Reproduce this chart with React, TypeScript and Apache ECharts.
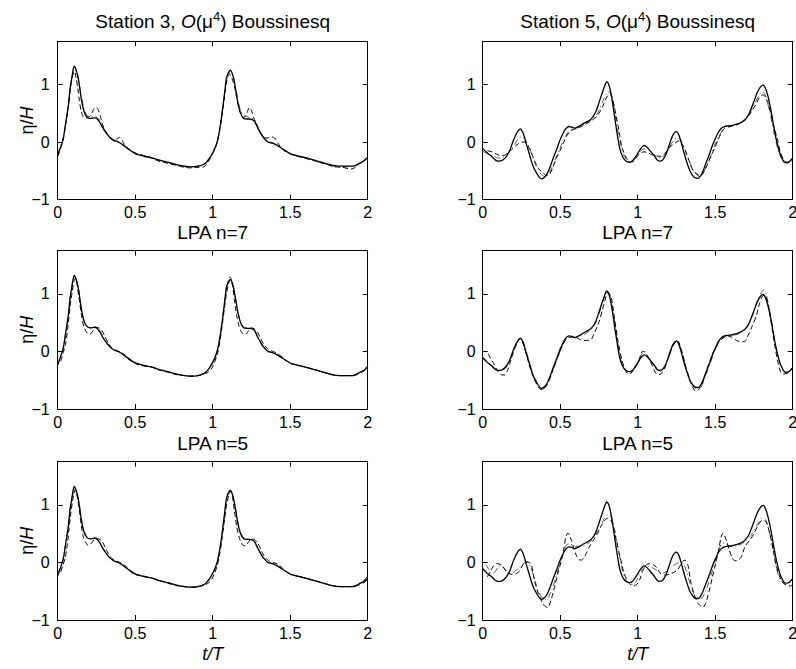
import React, { useEffect, useRef } from "react";
import * as echarts from "echarts";

// ---------- data (t/T, eta/H) ----------
const MEASURED_3 = [[0,-0.23],[0.02,-0.08],[0.036,0.06],[0.05,0.3],[0.069,0.64],[0.08,0.93],[0.09,1.10],[0.1,1.26],[0.107,1.32],[0.12,1.24],[0.133,1.10],[0.145,0.88],[0.155,0.70],[0.17,0.53],[0.187,0.44],[0.21,0.41],[0.24,0.42],[0.255,0.40],[0.27,0.35],[0.29,0.25],[0.315,0.15],[0.34,0.07],[0.36,0.03],[0.39,0.0],[0.42,-0.05],[0.45,-0.11],[0.5,-0.20],[0.55,-0.24],[0.605,-0.27],[0.65,-0.31],[0.71,-0.35],[0.76,-0.39],[0.82,-0.42],[0.86,-0.43],[0.905,-0.42],[0.94,-0.39],[0.96,-0.35],[0.98,-0.28],[1.0,-0.19],[1.02,-0.07],[1.034,0.06],[1.05,0.30],[1.067,0.64],[1.078,0.88],[1.088,1.10],[1.1,1.2],[1.114,1.25],[1.125,1.2],[1.135,1.10],[1.15,0.88],[1.163,0.67],[1.18,0.5],[1.2,0.41],[1.22,0.40],[1.238,0.40],[1.255,0.39],[1.27,0.36],[1.29,0.25],[1.31,0.15],[1.33,0.07],[1.356,0.0],[1.385,-0.02],[1.41,-0.05],[1.44,-0.1],[1.463,-0.14],[1.506,-0.21],[1.55,-0.24],[1.61,-0.28],[1.65,-0.31],[1.7,-0.35],[1.75,-0.39],[1.785,-0.41],[1.84,-0.42],[1.89,-0.42],[1.92,-0.41],[1.946,-0.37],[1.975,-0.33],[2.0,-0.27]];

const MEASURED_5 = [[0,-0.11],[0.03,-0.19],[0.058,-0.25],[0.08,-0.31],[0.1,-0.33],[0.125,-0.32],[0.144,-0.28],[0.16,-0.22],[0.176,-0.14],[0.19,-0.03],[0.208,0.09],[0.225,0.18],[0.243,0.23],[0.26,0.16],[0.272,0.06],[0.283,-0.05],[0.3,-0.2],[0.315,-0.34],[0.33,-0.45],[0.348,-0.54],[0.365,-0.61],[0.38,-0.64],[0.395,-0.62],[0.412,-0.57],[0.435,-0.43],[0.455,-0.28],[0.478,-0.12],[0.498,0.03],[0.515,0.13],[0.53,0.21],[0.556,0.27],[0.575,0.26],[0.594,0.24],[0.61,0.26],[0.627,0.28],[0.65,0.32],[0.67,0.35],[0.69,0.38],[0.712,0.44],[0.73,0.53],[0.745,0.64],[0.762,0.78],[0.777,0.9],[0.79,1.0],[0.8,1.05],[0.812,1.01],[0.825,0.88],[0.84,0.64],[0.85,0.45],[0.862,0.24],[0.873,0.05],[0.884,-0.11],[0.9,-0.24],[0.916,-0.31],[0.93,-0.34],[0.948,-0.35],[0.965,-0.33],[0.98,-0.28],[1.0,-0.2],[1.013,-0.14],[1.03,-0.08],[1.045,-0.06],[1.06,-0.09],[1.077,-0.14],[1.095,-0.2],[1.11,-0.25],[1.125,-0.31],[1.14,-0.33],[1.157,-0.32],[1.174,-0.26],[1.19,-0.16],[1.206,-0.03],[1.227,0.12],[1.25,0.18],[1.263,0.14],[1.28,0.0],[1.3,-0.2],[1.318,-0.36],[1.335,-0.49],[1.352,-0.57],[1.37,-0.62],[1.39,-0.63],[1.405,-0.59],[1.42,-0.51],[1.44,-0.37],[1.464,-0.2],[1.485,-0.04],[1.506,0.09],[1.52,0.17],[1.54,0.24],[1.56,0.27],[1.58,0.28],[1.61,0.29],[1.635,0.31],[1.66,0.33],[1.69,0.38],[1.705,0.43],[1.72,0.5],[1.735,0.6],[1.753,0.73],[1.77,0.85],[1.785,0.93],[1.8,0.98],[1.81,0.99],[1.825,0.93],[1.84,0.8],[1.86,0.55],[1.876,0.3],[1.893,0.06],[1.91,-0.13],[1.925,-0.25],[1.946,-0.35],[1.965,-0.36],[1.98,-0.34],[2.0,-0.28]];

const BOUSS_3_DASHED = [[0,-0.25],[0.02,-0.1],[0.036,0.05],[0.05,0.28],[0.069,0.62],[0.08,0.9],[0.09,1.08],[0.1,1.2],[0.108,1.22],[0.12,1.1],[0.13,0.92],[0.14,0.72],[0.15,0.55],[0.165,0.44],[0.18,0.42],[0.2,0.43],[0.22,0.5],[0.235,0.58],[0.25,0.6],[0.26,0.57],[0.275,0.45],[0.29,0.3],[0.315,0.16],[0.34,0.07],[0.36,0.03],[0.38,0.05],[0.4,0.08],[0.415,0.03],[0.43,-0.04],[0.45,-0.1],[0.5,-0.19],[0.55,-0.23],[0.605,-0.28],[0.65,-0.33],[0.71,-0.37],[0.76,-0.4],[0.82,-0.44],[0.86,-0.45],[0.905,-0.44],[0.944,-0.43],[0.974,-0.33],[1.0,-0.2],[1.02,-0.08],[1.034,0.05],[1.05,0.28],[1.067,0.6],[1.088,1.02],[1.1,1.15],[1.11,1.18],[1.125,1.1],[1.14,0.97],[1.16,0.7],[1.18,0.5],[1.2,0.42],[1.215,0.47],[1.238,0.6],[1.25,0.55],[1.265,0.42],[1.28,0.33],[1.3,0.2],[1.33,0.08],[1.356,0.07],[1.38,0.09],[1.4,0.07],[1.42,-0.02],[1.44,-0.09],[1.463,-0.15],[1.506,-0.21],[1.55,-0.25],[1.61,-0.29],[1.65,-0.32],[1.7,-0.36],[1.75,-0.4],[1.785,-0.43],[1.84,-0.44],[1.89,-0.47],[1.92,-0.44],[1.946,-0.37],[1.975,-0.32],[2.0,-0.27]];

const BOUSS_3_DASHDOT = [[0,-0.2],[0.02,-0.06],[0.036,0.08],[0.05,0.3],[0.069,0.62],[0.08,0.9],[0.09,1.06],[0.1,1.2],[0.11,1.26],[0.12,1.22],[0.133,1.12],[0.145,0.93],[0.155,0.76],[0.17,0.58],[0.187,0.47],[0.21,0.44],[0.24,0.45],[0.255,0.43],[0.27,0.38],[0.29,0.27],[0.315,0.16],[0.34,0.08],[0.36,0.04],[0.39,0.01],[0.42,-0.04],[0.45,-0.1],[0.5,-0.19],[0.55,-0.25],[0.605,-0.28],[0.65,-0.31],[0.71,-0.36],[0.76,-0.4],[0.82,-0.43],[0.86,-0.44],[0.905,-0.42],[0.94,-0.38],[0.96,-0.34],[0.98,-0.27],[1.0,-0.18],[1.02,-0.06],[1.034,0.07],[1.05,0.3],[1.067,0.62],[1.088,1.06],[1.1,1.17],[1.114,1.24],[1.125,1.21],[1.135,1.12],[1.15,0.92],[1.163,0.72],[1.18,0.55],[1.2,0.46],[1.22,0.44],[1.238,0.43],[1.255,0.41],[1.27,0.37],[1.29,0.27],[1.31,0.16],[1.33,0.08],[1.356,0.01],[1.385,-0.01],[1.41,-0.05],[1.44,-0.1],[1.463,-0.15],[1.506,-0.21],[1.55,-0.25],[1.61,-0.29],[1.65,-0.32],[1.7,-0.36],[1.75,-0.4],[1.785,-0.42],[1.84,-0.43],[1.89,-0.43],[1.92,-0.41],[1.946,-0.38],[1.975,-0.32],[2.0,-0.26]];

const BOUSS_5_DASHED = [[0.03,-0.15],[0.06,-0.17],[0.09,-0.21],[0.116,-0.24],[0.14,-0.23],[0.165,-0.18],[0.187,-0.13],[0.21,-0.07],[0.23,-0.03],[0.25,0.0],[0.27,0.0],[0.29,-0.06],[0.31,-0.16],[0.335,-0.33],[0.36,-0.46],[0.39,-0.54],[0.41,-0.58],[0.43,-0.56],[0.45,-0.46],[0.476,-0.28],[0.5,-0.14],[0.52,-0.02],[0.545,0.12],[0.57,0.2],[0.6,0.23],[0.63,0.26],[0.67,0.32],[0.7,0.37],[0.734,0.44],[0.755,0.52],[0.773,0.61],[0.79,0.72],[0.805,0.8],[0.82,0.84],[0.835,0.78],[0.85,0.6],[0.862,0.44],[0.873,0.29],[0.884,0.12],[0.895,-0.05],[0.91,-0.18],[0.93,-0.29],[0.95,-0.35],[0.97,-0.34],[0.99,-0.28],[1.01,-0.21],[1.04,-0.17],[1.07,-0.19],[1.09,-0.22],[1.12,-0.24],[1.15,-0.25],[1.175,-0.2],[1.2,-0.11],[1.22,-0.06],[1.24,-0.02],[1.265,0.02],[1.285,-0.03],[1.31,-0.18],[1.335,-0.35],[1.356,-0.49],[1.39,-0.57],[1.41,-0.58],[1.43,-0.5],[1.453,-0.37],[1.475,-0.23],[1.496,-0.11],[1.52,0.05],[1.54,0.16],[1.56,0.24],[1.6,0.27],[1.64,0.3],[1.68,0.36],[1.72,0.47],[1.74,0.56],[1.76,0.64],[1.785,0.77],[1.805,0.82],[1.82,0.8],[1.84,0.68],[1.86,0.48],[1.88,0.25],[1.9,0.06],[1.92,-0.17],[1.94,-0.3],[1.96,-0.35],[1.98,-0.35],[2.0,-0.31]];

const BOUSS_5_DASHDOT = [[0,-0.16],[0.03,-0.2],[0.06,-0.24],[0.09,-0.27],[0.116,-0.28],[0.14,-0.25],[0.165,-0.19],[0.187,-0.11],[0.21,-0.02],[0.23,0.06],[0.25,0.09],[0.27,0.06],[0.29,-0.03],[0.31,-0.16],[0.335,-0.35],[0.36,-0.5],[0.385,-0.58],[0.405,-0.6],[0.425,-0.55],[0.45,-0.42],[0.476,-0.25],[0.5,-0.1],[0.52,0.02],[0.545,0.15],[0.57,0.22],[0.6,0.24],[0.63,0.27],[0.67,0.33],[0.7,0.38],[0.734,0.47],[0.755,0.58],[0.773,0.7],[0.79,0.8],[0.805,0.86],[0.82,0.87],[0.835,0.76],[0.85,0.55],[0.865,0.3],[0.88,0.08],[0.895,-0.1],[0.91,-0.22],[0.93,-0.31],[0.95,-0.34],[0.97,-0.33],[0.99,-0.26],[1.01,-0.18],[1.04,-0.12],[1.07,-0.14],[1.09,-0.19],[1.12,-0.25],[1.15,-0.28],[1.175,-0.22],[1.2,-0.12],[1.22,-0.02],[1.24,0.05],[1.265,0.07],[1.285,0.0],[1.31,-0.16],[1.335,-0.34],[1.356,-0.48],[1.385,-0.58],[1.405,-0.6],[1.425,-0.53],[1.453,-0.36],[1.475,-0.21],[1.496,-0.06],[1.52,0.08],[1.54,0.18],[1.56,0.25],[1.6,0.28],[1.64,0.31],[1.68,0.37],[1.72,0.5],[1.74,0.6],[1.76,0.7],[1.785,0.82],[1.805,0.87],[1.82,0.84],[1.84,0.66],[1.86,0.42],[1.88,0.15],[1.9,-0.08],[1.92,-0.24],[1.94,-0.32],[1.96,-0.35],[1.98,-0.33],[2.0,-0.27]];

const LPA7_3_DASHED = [[0.02,-0.17],[0.036,-0.02],[0.05,0.12],[0.065,0.4],[0.08,0.78],[0.095,1.06],[0.105,1.22],[0.113,1.27],[0.125,1.16],[0.14,0.88],[0.155,0.6],[0.17,0.42],[0.185,0.34],[0.2,0.3],[0.215,0.31],[0.23,0.37],[0.245,0.42],[0.265,0.41],[0.285,0.36],[0.305,0.26],[0.325,0.15],[0.35,0.06],[0.38,0.01],[0.41,-0.02],[0.43,-0.05],[0.45,-0.12],[0.47,-0.16],[0.5,-0.21],[0.55,-0.25],[0.605,-0.27],[0.65,-0.32],[0.71,-0.36],[0.76,-0.4],[0.82,-0.42],[0.86,-0.43],[0.905,-0.42],[0.94,-0.39],[0.965,-0.37],[0.99,-0.31],[1.01,-0.2],[1.03,-0.05],[1.045,0.15],[1.06,0.42],[1.075,0.74],[1.09,1.02],[1.105,1.2],[1.115,1.25],[1.128,1.14],[1.14,0.9],[1.155,0.62],[1.17,0.44],[1.185,0.34],[1.2,0.3],[1.215,0.3],[1.23,0.36],[1.25,0.41],[1.27,0.39],[1.29,0.33],[1.31,0.22],[1.33,0.12],[1.36,0.03],[1.39,0.0],[1.42,-0.04],[1.45,-0.1],[1.48,-0.17],[1.506,-0.21],[1.55,-0.24],[1.61,-0.28],[1.65,-0.31],[1.7,-0.35],[1.75,-0.39],[1.785,-0.41],[1.84,-0.42],[1.89,-0.42],[1.92,-0.41],[1.946,-0.38],[1.975,-0.34],[2.0,-0.28]];

const LPA7_3_DASHDOT = [[0,-0.22],[0.02,-0.08],[0.036,0.05],[0.05,0.28],[0.069,0.62],[0.08,0.92],[0.09,1.1],[0.1,1.26],[0.108,1.31],[0.12,1.25],[0.133,1.1],[0.145,0.88],[0.155,0.7],[0.17,0.53],[0.187,0.44],[0.21,0.41],[0.24,0.42],[0.255,0.41],[0.27,0.37],[0.29,0.27],[0.315,0.16],[0.34,0.08],[0.36,0.04],[0.39,0.0],[0.42,-0.04],[0.45,-0.1],[0.5,-0.19],[0.55,-0.24],[0.605,-0.27],[0.65,-0.31],[0.71,-0.35],[0.76,-0.39],[0.82,-0.42],[0.86,-0.43],[0.905,-0.42],[0.94,-0.38],[0.96,-0.34],[0.98,-0.27],[1.0,-0.18],[1.02,-0.06],[1.034,0.07],[1.05,0.31],[1.067,0.65],[1.088,1.12],[1.1,1.24],[1.112,1.3],[1.125,1.22],[1.135,1.1],[1.15,0.88],[1.163,0.68],[1.18,0.51],[1.2,0.42],[1.22,0.41],[1.238,0.41],[1.255,0.4],[1.27,0.37],[1.29,0.26],[1.31,0.16],[1.33,0.08],[1.356,0.01],[1.385,-0.02],[1.41,-0.05],[1.44,-0.1],[1.463,-0.14],[1.506,-0.21],[1.55,-0.24],[1.61,-0.28],[1.65,-0.31],[1.7,-0.35],[1.75,-0.39],[1.785,-0.41],[1.84,-0.42],[1.89,-0.42],[1.92,-0.4],[1.946,-0.36],[1.975,-0.31],[2.0,-0.25]];

const LPA7_5_DASHED = [[0.036,-0.04],[0.05,-0.12],[0.069,-0.2],[0.09,-0.31],[0.116,-0.4],[0.144,-0.41],[0.16,-0.33],[0.176,-0.2],[0.192,-0.07],[0.208,0.06],[0.225,0.16],[0.24,0.22],[0.255,0.17],[0.27,0.06],[0.287,-0.1],[0.305,-0.28],[0.325,-0.43],[0.348,-0.57],[0.373,-0.66],[0.39,-0.65],[0.41,-0.6],[0.43,-0.48],[0.455,-0.31],[0.478,-0.14],[0.498,0.0],[0.515,0.1],[0.53,0.18],[0.558,0.24],[0.594,0.25],[0.625,0.21],[0.66,0.19],[0.7,0.21],[0.72,0.32],[0.74,0.44],[0.755,0.55],[0.773,0.73],[0.79,0.9],[0.8,1.0],[0.81,1.02],[0.83,0.93],[0.85,0.58],[0.873,0.18],[0.9,-0.17],[0.92,-0.32],[0.937,-0.39],[0.955,-0.38],[0.97,-0.34],[0.985,-0.27],[1.0,-0.2],[1.015,-0.1],[1.03,0.0],[1.045,-0.01],[1.056,-0.05],[1.075,-0.14],[1.09,-0.22],[1.105,-0.32],[1.12,-0.39],[1.144,-0.4],[1.16,-0.35],[1.176,-0.28],[1.19,-0.17],[1.206,-0.05],[1.225,0.08],[1.245,0.17],[1.26,0.18],[1.275,0.08],[1.29,-0.05],[1.31,-0.26],[1.335,-0.49],[1.355,-0.62],[1.373,-0.69],[1.39,-0.67],[1.41,-0.6],[1.43,-0.45],[1.45,-0.28],[1.47,-0.13],[1.49,0.0],[1.515,0.12],[1.54,0.21],[1.58,0.27],[1.61,0.24],[1.646,0.18],[1.69,0.17],[1.705,0.24],[1.72,0.32],[1.74,0.45],[1.764,0.61],[1.785,0.82],[1.8,0.94],[1.818,0.98],[1.83,0.93],[1.845,0.78],[1.87,0.35],[1.888,0.05],[1.903,-0.17],[1.925,-0.37],[1.946,-0.39],[1.965,-0.38],[1.98,-0.35],[2.0,-0.28]];

const LPA7_5_DASHDOT = [[0,-0.1],[0.03,-0.18],[0.058,-0.25],[0.08,-0.3],[0.1,-0.33],[0.125,-0.33],[0.144,-0.3],[0.16,-0.24],[0.176,-0.16],[0.19,-0.05],[0.208,0.07],[0.225,0.17],[0.245,0.23],[0.262,0.17],[0.275,0.07],[0.287,-0.05],[0.303,-0.2],[0.318,-0.34],[0.333,-0.45],[0.35,-0.54],[0.368,-0.62],[0.384,-0.66],[0.4,-0.64],[0.417,-0.58],[0.44,-0.43],[0.46,-0.28],[0.483,-0.11],[0.503,0.03],[0.52,0.13],[0.535,0.2],[0.56,0.26],[0.58,0.25],[0.6,0.24],[0.62,0.26],[0.64,0.28],[0.66,0.3],[0.68,0.34],[0.7,0.38],[0.72,0.45],[0.738,0.55],[0.752,0.66],[0.768,0.8],[0.782,0.92],[0.795,1.01],[0.805,1.05],[0.817,1.0],[0.83,0.86],[0.845,0.62],[0.856,0.42],[0.868,0.2],[0.88,0.0],[0.892,-0.15],[0.907,-0.27],[0.925,-0.34],[0.945,-0.37],[0.965,-0.35],[0.98,-0.29],[1.0,-0.2],[1.015,-0.1],[1.03,-0.02],[1.045,0.0],[1.06,-0.06],[1.08,-0.15],[1.1,-0.22],[1.12,-0.3],[1.14,-0.35],[1.16,-0.33],[1.178,-0.26],[1.193,-0.15],[1.21,-0.02],[1.23,0.12],[1.252,0.19],[1.266,0.14],[1.283,0.0],[1.303,-0.2],[1.322,-0.37],[1.34,-0.5],[1.357,-0.59],[1.375,-0.65],[1.393,-0.66],[1.41,-0.61],[1.425,-0.52],[1.445,-0.37],[1.468,-0.2],[1.49,-0.04],[1.51,0.09],[1.525,0.17],[1.545,0.23],[1.565,0.26],[1.59,0.27],[1.62,0.28],[1.645,0.3],[1.67,0.33],[1.695,0.38],[1.71,0.44],[1.725,0.52],[1.74,0.63],[1.758,0.77],[1.775,0.9],[1.79,0.99],[1.805,1.05],[1.815,1.07],[1.83,0.98],[1.845,0.8],[1.865,0.5],[1.88,0.24],[1.897,0.0],[1.915,-0.19],[1.93,-0.3],[1.95,-0.37],[1.97,-0.37],[1.985,-0.33],[2.0,-0.27]];

const LPA5_3_DASHED = [[0.02,-0.16],[0.036,-0.03],[0.05,0.1],[0.065,0.38],[0.08,0.76],[0.095,1.05],[0.105,1.2],[0.113,1.26],[0.125,1.16],[0.14,0.9],[0.152,0.64],[0.165,0.45],[0.18,0.35],[0.195,0.3],[0.21,0.31],[0.225,0.36],[0.245,0.42],[0.265,0.41],[0.285,0.37],[0.305,0.27],[0.325,0.16],[0.35,0.07],[0.38,0.02],[0.41,-0.01],[0.43,-0.04],[0.45,-0.1],[0.47,-0.16],[0.5,-0.21],[0.55,-0.24],[0.605,-0.27],[0.65,-0.31],[0.71,-0.36],[0.76,-0.4],[0.82,-0.42],[0.86,-0.43],[0.905,-0.42],[0.94,-0.4],[0.965,-0.37],[0.99,-0.31],[1.01,-0.2],[1.03,-0.05],[1.045,0.14],[1.06,0.4],[1.075,0.72],[1.09,1.0],[1.105,1.18],[1.115,1.24],[1.128,1.13],[1.14,0.9],[1.155,0.62],[1.17,0.44],[1.185,0.34],[1.2,0.29],[1.215,0.29],[1.23,0.35],[1.25,0.41],[1.27,0.4],[1.29,0.34],[1.31,0.23],[1.33,0.12],[1.36,0.03],[1.39,0.0],[1.42,-0.03],[1.45,-0.1],[1.48,-0.17],[1.506,-0.21],[1.55,-0.24],[1.61,-0.28],[1.65,-0.31],[1.7,-0.35],[1.75,-0.39],[1.785,-0.41],[1.84,-0.42],[1.89,-0.42],[1.92,-0.41],[1.946,-0.39],[1.975,-0.35],[2.0,-0.3]];

const LPA5_3_DASHDOT = [[0,-0.2],[0.02,-0.06],[0.036,0.07],[0.05,0.3],[0.069,0.63],[0.08,0.9],[0.09,1.07],[0.1,1.22],[0.109,1.27],[0.12,1.22],[0.133,1.1],[0.145,0.9],[0.155,0.72],[0.17,0.55],[0.187,0.45],[0.21,0.42],[0.24,0.43],[0.255,0.41],[0.27,0.36],[0.29,0.26],[0.315,0.15],[0.34,0.07],[0.36,0.03],[0.39,0.0],[0.42,-0.05],[0.45,-0.11],[0.5,-0.2],[0.55,-0.24],[0.605,-0.28],[0.65,-0.31],[0.71,-0.35],[0.76,-0.39],[0.82,-0.42],[0.86,-0.43],[0.905,-0.42],[0.94,-0.38],[0.96,-0.34],[0.98,-0.28],[1.0,-0.19],[1.02,-0.07],[1.034,0.06],[1.05,0.29],[1.067,0.62],[1.088,1.08],[1.1,1.2],[1.113,1.26],[1.125,1.21],[1.135,1.1],[1.15,0.89],[1.163,0.69],[1.18,0.52],[1.2,0.43],[1.22,0.41],[1.238,0.41],[1.255,0.4],[1.27,0.36],[1.29,0.26],[1.31,0.15],[1.33,0.07],[1.356,0.0],[1.385,-0.02],[1.41,-0.05],[1.44,-0.1],[1.463,-0.14],[1.506,-0.21],[1.55,-0.24],[1.61,-0.28],[1.65,-0.31],[1.7,-0.35],[1.75,-0.39],[1.785,-0.41],[1.84,-0.42],[1.89,-0.42],[1.92,-0.4],[1.946,-0.36],[1.975,-0.31],[2.0,-0.24]];

const LPA5_5_DASHED = [[0.03,-0.25],[0.048,-0.16],[0.065,-0.08],[0.09,-0.02],[0.12,-0.04],[0.137,-0.1],[0.155,-0.17],[0.19,-0.21],[0.23,-0.17],[0.26,-0.04],[0.28,0.01],[0.3,0.0],[0.315,-0.05],[0.337,-0.35],[0.36,-0.55],[0.385,-0.7],[0.405,-0.77],[0.42,-0.78],[0.44,-0.66],[0.466,-0.4],[0.49,-0.14],[0.51,0.06],[0.525,0.26],[0.536,0.44],[0.55,0.51],[0.56,0.47],[0.573,0.38],[0.59,0.22],[0.605,0.12],[0.622,0.05],[0.635,0.04],[0.652,0.08],[0.67,0.17],[0.69,0.28],[0.72,0.41],[0.745,0.52],[0.766,0.64],[0.79,0.74],[0.81,0.77],[0.83,0.72],[0.85,0.53],[0.867,0.32],[0.884,0.12],[0.9,-0.06],[0.91,-0.17],[0.925,-0.27],[0.94,-0.34],[0.955,-0.39],[0.974,-0.41],[0.995,-0.38],[1.013,-0.3],[1.034,-0.14],[1.056,-0.04],[1.08,-0.02],[1.1,-0.04],[1.12,-0.08],[1.15,-0.2],[1.18,-0.22],[1.21,-0.2],[1.235,-0.17],[1.26,-0.12],[1.29,0.02],[1.305,0.04],[1.324,-0.05],[1.345,-0.37],[1.37,-0.6],[1.395,-0.73],[1.42,-0.78],[1.44,-0.7],[1.465,-0.45],[1.49,-0.16],[1.51,0.06],[1.525,0.26],[1.538,0.44],[1.55,0.51],[1.56,0.47],[1.575,0.36],[1.59,0.22],[1.61,0.08],[1.625,0.03],[1.645,0.04],[1.667,0.09],[1.693,0.28],[1.73,0.41],[1.755,0.53],[1.775,0.64],[1.795,0.72],[1.807,0.73],[1.83,0.7],[1.86,0.41],[1.875,0.2],[1.893,-0.05],[1.914,-0.23],[1.93,-0.33],[1.946,-0.37],[1.98,-0.41],[2.0,-0.39]];

const LPA5_5_DASHDOT = [[0.02,-0.04],[0.04,-0.12],[0.06,-0.2],[0.08,-0.16],[0.1,-0.08],[0.12,-0.05],[0.14,-0.1],[0.17,-0.18],[0.2,-0.17],[0.23,-0.1],[0.26,-0.02],[0.29,0.01],[0.31,-0.08],[0.33,-0.25],[0.355,-0.47],[0.38,-0.6],[0.4,-0.65],[0.42,-0.62],[0.445,-0.48],[0.47,-0.28],[0.5,0.0],[0.52,0.18],[0.54,0.3],[0.56,0.33],[0.58,0.3],[0.6,0.28],[0.63,0.28],[0.66,0.3],[0.69,0.35],[0.72,0.44],[0.75,0.58],[0.78,0.74],[0.8,0.82],[0.82,0.83],[0.84,0.7],[0.86,0.45],[0.88,0.15],[0.9,-0.12],[0.92,-0.28],[0.945,-0.37],[0.97,-0.38],[0.99,-0.33],[1.01,-0.22],[1.03,-0.12],[1.05,-0.08],[1.07,-0.07],[1.1,-0.1],[1.13,-0.15],[1.16,-0.19],[1.19,-0.15],[1.22,-0.08],[1.25,-0.02],[1.28,0.0],[1.3,-0.05],[1.32,-0.2],[1.345,-0.43],[1.37,-0.58],[1.4,-0.64],[1.42,-0.6],[1.445,-0.45],[1.47,-0.25],[1.5,0.02],[1.52,0.2],[1.54,0.32],[1.56,0.34],[1.58,0.3],[1.61,0.28],[1.64,0.29],[1.67,0.32],[1.7,0.38],[1.73,0.47],[1.76,0.6],[1.785,0.72],[1.805,0.77],[1.825,0.74],[1.845,0.58],[1.865,0.35],[1.885,0.05],[1.905,-0.2],[1.925,-0.32],[1.95,-0.38],[1.975,-0.4],[2.0,-0.36]];

// ---------- labels ----------
const STATIONS = ["Station 3", "Station 5"];
const ROW_TITLES = ["", "LPA n=7", "LPA n=5"];
const X_TICK_STEP = 0.5;
const Y_TICK_STEP = 1;

// ---------- layout ----------
const FONT = "'Liberation Sans', Arial, Helvetica, sans-serif";
const COL_LEFT = [57.7, 482.7];
const PANEL_W = 310;
const ROW_TOP = [41.3, 250.7, 461.7];
const PANEL_H = 158.3;

const PANELS = [
  { row: 0, col: 0, measured: MEASURED_3, dashed: BOUSS_3_DASHED, dashdot: BOUSS_3_DASHDOT },
  { row: 0, col: 1, measured: MEASURED_5, dashed: BOUSS_5_DASHED, dashdot: BOUSS_5_DASHDOT },
  { row: 1, col: 0, measured: MEASURED_3, dashed: LPA7_3_DASHED, dashdot: LPA7_3_DASHDOT },
  { row: 1, col: 1, measured: MEASURED_5, dashed: LPA7_5_DASHED, dashdot: LPA7_5_DASHDOT },
  { row: 2, col: 0, measured: MEASURED_3, dashed: LPA5_3_DASHED, dashdot: LPA5_3_DASHDOT },
  { row: 2, col: 1, measured: MEASURED_5, dashed: LPA5_5_DASHED, dashdot: LPA5_5_DASHDOT },
];

function buildOption() {
  const grid: any[] = [];
  const xAxis: any[] = [];
  const yAxis: any[] = [];
  const series: any[] = [];
  const axisLine = { show: true, onZero: false, lineStyle: { color: "#000", width: 1 } };
  const axisTick = { show: true, inside: true, length: 5, lineStyle: { color: "#000", width: 1 } };
  const labelBase = { color: "#000", fontSize: 16, fontFamily: FONT, lineHeight: 14 };

  PANELS.forEach((p, i) => {
    grid.push({
      left: COL_LEFT[p.col],
      top: ROW_TOP[p.row],
      width: PANEL_W,
      height: PANEL_H,
      containLabel: false,
      outerBoundsMode: "none",
      show: false,
    });
    xAxis.push({
      gridIndex: i, type: "value", position: "bottom", min: 0, max: 2, interval: X_TICK_STEP,
      axisLine, axisTick, splitLine: { show: false },
      axisLabel: { ...labelBase, margin: 6, formatter: (v: number) => String(v) },
    });
    xAxis.push({
      gridIndex: i, type: "value", position: "top", min: 0, max: 2, interval: X_TICK_STEP,
      axisLine, axisTick, splitLine: { show: false }, axisLabel: { show: false },
    });
    yAxis.push({
      gridIndex: i, type: "value", position: "left", min: -1, max: 1.75, interval: Y_TICK_STEP,
      axisLine, axisTick, splitLine: { show: false },
      axisLabel: {
        ...labelBase, margin: p.col === 0 ? 8 : 7,
        formatter: (v: number) => (Number.isInteger(v) ? (v < 0 ? "\u2212" + Math.abs(v) : String(v)) : ""),
      },
    });
    yAxis.push({
      gridIndex: i, type: "value", position: "right", min: -1, max: 1.75, interval: Y_TICK_STEP,
      axisLine, axisTick, splitLine: { show: false }, axisLabel: { show: false },
    });
    const xi = i * 2;
    const yi = i * 2;
    series.push({
      type: "line", xAxisIndex: xi, yAxisIndex: yi, data: p.dashdot, symbol: "none", smooth: 0.25,
      lineStyle: { color: "#555", width: 1, type: [6, 3, 1, 3] }, silent: true,
    });
    series.push({
      type: "line", xAxisIndex: xi, yAxisIndex: yi, data: p.dashed, symbol: "none", smooth: 0.25,
      lineStyle: { color: "#000", width: 1, type: [5, 3] }, silent: true,
    });
    series.push({
      type: "line", xAxisIndex: xi, yAxisIndex: yi, data: p.measured, symbol: "none", smooth: 0.25,
      lineStyle: { color: "#000", width: 1.3, type: "solid" }, silent: true,
    });
  });

  const titleRich = {
    n: { fontSize: 19, fontFamily: FONT, fill: "#000", lineHeight: 22 },
    i: { fontSize: 19, fontFamily: FONT, fill: "#000", fontStyle: "italic", lineHeight: 22 },
    s: { fontSize: 13, fontFamily: FONT, fill: "#000", verticalAlign: "top", lineHeight: 5 },
  };
  const labelRich = {
    n: { fontSize: 18, fontFamily: FONT, fill: "#000", lineHeight: 16 },
    i: { fontSize: 18, fontFamily: FONT, fill: "#000", fontStyle: "italic", lineHeight: 16 },
  };
  const graphic: any[] = [];
  [0, 1].forEach((col) => {
    const cx = COL_LEFT[col] + PANEL_W / 2;
    graphic.push({
      type: "text", x: cx, y: ROW_TOP[0] - 20,
      style: { text: `{n|${STATIONS[col]}, }{i|O}{n|(\u03bc}{s|4}{n|) Boussinesq}`, rich: titleRich, align: "center", verticalAlign: "middle" },
    });
    [1, 2].forEach((row) => {
      graphic.push({
        type: "text", x: cx, y: ROW_TOP[row] - 18.5,
        style: { text: ROW_TITLES[row], font: `19px ${FONT}`, lineHeight: 16, fill: "#000", align: "center", verticalAlign: "middle" },
      });
    });
    graphic.push({
      type: "text", x: cx, y: ROW_TOP[2] + PANEL_H + 34,
      style: { text: "{i|t/T}", rich: labelRich, align: "center", verticalAlign: "middle" },
    });
  });
  [0, 1, 2].forEach((row) => {
    graphic.push({
      type: "text", x: 27, y: ROW_TOP[row] + PANEL_H / 2, rotation: Math.PI / 2,
      style: { text: "{n|\u03b7/}{i|H}", rich: labelRich, align: "center", verticalAlign: "middle" },
    });
  });

  return { animation: false, backgroundColor: "#fff", grid, xAxis, yAxis, series, graphic };
}

export default function App() {
  const ref = useRef<HTMLDivElement>(null);
  useEffect(() => {
    if (!ref.current) return;
    const chart = echarts.init(ref.current, undefined, { renderer: "svg" });
    chart.setOption(buildOption() as any);
    return () => chart.dispose();
  }, []);
  return (
    <div
      ref={ref}
      style={{ position: "fixed", left: 0, top: 0, width: 796, height: 669, background: "#fff" }}
    />
  );
}
